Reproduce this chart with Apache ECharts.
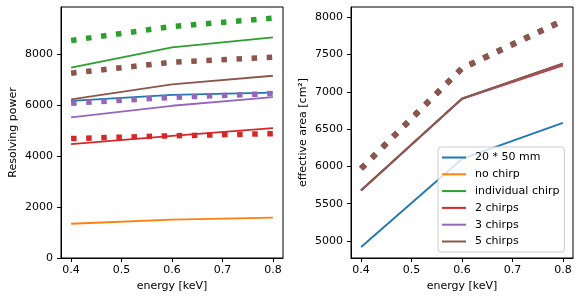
<!DOCTYPE html>
<html>
<head>
<meta charset="utf-8">
<script src="https://cdn.jsdelivr.net/npm/echarts@6/dist/echarts.min.js"></script>
<style>html,body{margin:0;padding:0;background:#fff}#c{width:581px;height:301px}</style>
</head>
<body>
<div id="c"></div>
<script>
// ---- data ----
var energy = [0.4, 0.6, 0.8];
var xTicks = [0.4, 0.5, 0.6, 0.7, 0.8];
var rpTicks = [0, 2000, 4000, 6000, 8000];
var areaTicks = [5000, 5500, 6000, 6500, 7000, 7500, 8000];
var legendNames = ['20 * 50 mm', 'no chirp', 'individual chirp', '2 chirps', '3 chirps', '5 chirps'];

// resolving power (left)
var rpBlue = [6170, 6410, 6500];
var rpOrange = [1345, 1505, 1585];
var rpGreen = [7480, 8270, 8665];
var rpGreenDot = [8545, 9095, 9425];
var rpRed = [4475, 4800, 5105];
var rpRedDot = [4690, 4800, 4885];
var rpPurple = [5525, 5980, 6320];
var rpPurpleDot = [6080, 6310, 6460];
var rpBrown = [6230, 6820, 7160];
var rpBrownDot = [7260, 7690, 7890];

// effective area (right)
var eaBlue = [4920, 6100, 6585];
var eaOrange = [5680, 6910, 7380];
var eaGreen = [5680, 6910, 7380];
var eaGreenDot = [5975, 7320, 7960];
var eaRed = [5680, 6905, 7355];
var eaRedDot = [5970, 7315, 7955];
var eaPurple = [5675, 6905, 7375];
var eaPurpleDot = [5968, 7312, 7952];
var eaBrown = [5680, 6910, 7380];
var eaBrownDot = [5970, 7315, 7955];

var C = {blue:'#1f77b4', orange:'#ff7f0e', green:'#2ca02c', red:'#d62728', purple:'#9467bd', brown:'#8c564b'};

function pts(ys){ return energy.map(function(x,i){ return [x, ys[i]]; }); }
function solid(name, ys, color, ax){
  return {type:'line', name:name, data:pts(ys), xAxisIndex:ax, yAxisIndex:ax,
    showSymbol:false, symbol:'none', silent:true, animation:false,
    lineStyle:{color:color, width:1.8}, itemStyle:{color:color}};
}
function dotted(name, ys, color, ax){
  return {type:'line', name:name, data:pts(ys), xAxisIndex:ax, yAxisIndex:ax,
    showSymbol:false, symbol:'none', silent:true, animation:false,
    lineStyle:{color:color, width:5.5, type:[5.5, 9.6], cap:'butt'}, itemStyle:{color:color}};
}

var font = 'DejaVu Sans';
function xAxis(idx){
  return {type:'value', gridIndex:idx, min:0.38, max:0.82,
    name:'energy [keV]', nameLocation:'middle', nameGap:23,
    nameTextStyle:{color:'#000', fontSize:11, fontFamily:font},
    axisLine:{show:true, onZero:false, lineStyle:{color:'#000', width:1}},
    axisTick:{show:true, length:4, lineStyle:{color:'#000'}, customValues:xTicks},
    axisLabel:{color:'#000', fontSize:11, fontFamily:font, margin:7, customValues:xTicks,
      formatter:function(v){ return v.toFixed(1); }},
    splitLine:{show:false}};
}
function yAxis(idx, mn, mx, ticks, name){
  return {type:'value', gridIndex:idx, min:mn, max:mx,
    name:name, nameLocation:'middle', nameGap:42,
    nameTextStyle:{color:'#000', fontSize:11, fontFamily:font},
    axisLine:{show:true, lineStyle:{color:'#000', width:1}},
    axisTick:{show:true, length:4, lineStyle:{color:'#000'}, customValues:ticks},
    axisLabel:{color:'#000', fontSize:11, fontFamily:font, margin:8, customValues:ticks,
      formatter:function(v){ return String(Math.round(v)); }},
    splitLine:{show:false}};
}

var chart = echarts.init(document.getElementById('c'), null, {renderer:'canvas'});
chart.setOption({
  animation:false,
  backgroundColor:'#fff',
  grid:[
    {left:61, right:298, top:7, bottom:43, show:true, borderColor:'#000', borderWidth:1, backgroundColor:'transparent'},
    {left:351, right:8, top:7, bottom:43, show:true, borderColor:'#000', borderWidth:1, backgroundColor:'transparent'}
  ],
  xAxis:[xAxis(0), xAxis(1)],
  yAxis:[
    yAxis(0, 0, 9860, rpTicks, 'Resolving power'),
    yAxis(1, 4772, 8138, areaTicks, 'effective area [cm²]')
  ],
  legend:{
    data:legendNames, orient:'vertical', left:438, top:147,
    icon:'rect', itemWidth:24, itemHeight:2, itemGap:3.8,
    padding:[4,5,4,4],
    backgroundColor:'rgba(255,255,255,0.8)', borderColor:'#ccc', borderWidth:1, borderRadius:3,
    textStyle:{color:'#000', fontSize:11, fontFamily:font, lineHeight:13, padding:[0,0,0,4]},
    selectedMode:false
  },
  series:[
    solid('20 * 50 mm', rpBlue, C.blue, 0),
    solid('no chirp', rpOrange, C.orange, 0),
    solid('individual chirp', rpGreen, C.green, 0),
    dotted('_g', rpGreenDot, C.green, 0),
    solid('2 chirps', rpRed, C.red, 0),
    dotted('_r', rpRedDot, C.red, 0),
    solid('3 chirps', rpPurple, C.purple, 0),
    dotted('_p', rpPurpleDot, C.purple, 0),
    solid('5 chirps', rpBrown, C.brown, 0),
    dotted('_b', rpBrownDot, C.brown, 0),

    solid('20 * 50 mm', eaBlue, C.blue, 1),
    solid('no chirp', eaOrange, C.orange, 1),
    solid('individual chirp', eaGreen, C.green, 1),
    dotted('_g2', eaGreenDot, C.green, 1),
    solid('2 chirps', eaRed, C.red, 1),
    dotted('_r2', eaRedDot, C.red, 1),
    solid('3 chirps', eaPurple, C.purple, 1),
    dotted('_p2', eaPurpleDot, C.purple, 1),
    solid('5 chirps', eaBrown, C.brown, 1),
    dotted('_b2', eaBrownDot, C.brown, 1)
  ]
});
</script>
</body>
</html>
